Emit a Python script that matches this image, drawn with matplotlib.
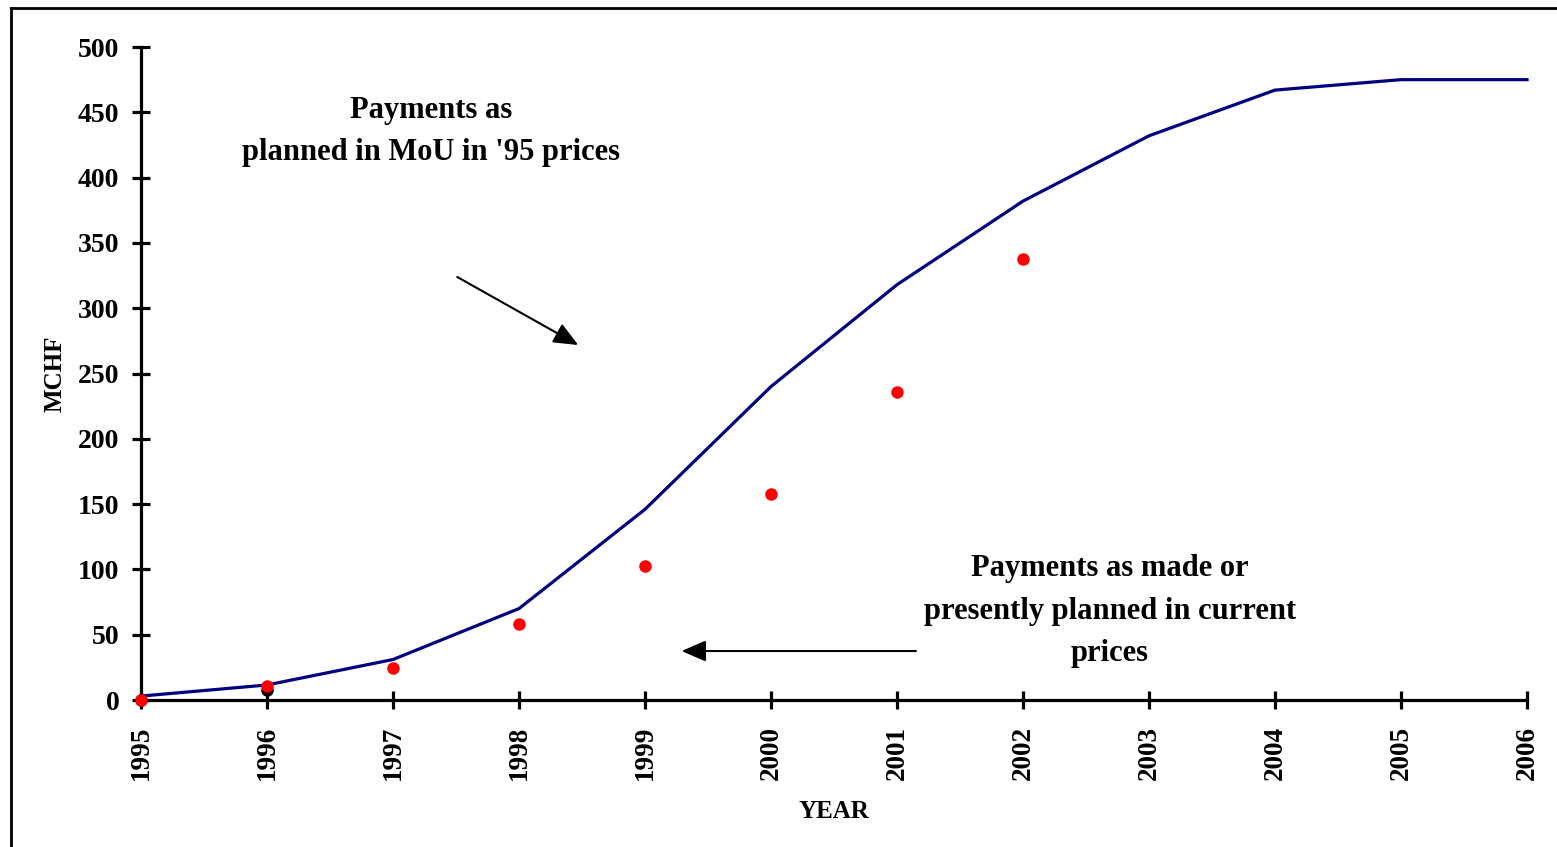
import matplotlib
matplotlib.use("Agg")
import matplotlib.pyplot as plt
from matplotlib.lines import Line2D

# data
years = [1995, 1996, 1997, 1998, 1999, 2000, 2001, 2002, 2003, 2004, 2005, 2006]
planned_mou = [3, 11.5, 31, 70, 146, 240, 318, 382, 432, 467, 475, 475]

actual_years = [1995, 1996, 1997, 1998, 1999, 2000, 2001, 2002]
actual_current = [0, 11, 24.5, 58, 102.5, 157.5, 236, 338]

black_years = [1995, 1996]
black_vals = [0, 8]

y_ticks = [0, 50, 100, 150, 200, 250, 300, 350, 400, 450, 500]

plt.rcParams["font.family"] = ["Liberation Serif", "DejaVu Serif"]
plt.rcParams["font.weight"] = "bold"

W, H = 1557, 847
fig = plt.figure(figsize=(W / 100, H / 100), dpi=100)
ax = fig.add_axes([141 / W, 1 - 700 / H, (1527 - 141) / W, (700 - 47) / H])

ax.plot(years, planned_mou, color="#000080", lw=2.3, clip_on=False, zorder=3)
ax.plot(black_years, black_vals, "o", color="black", ms=8, clip_on=False, zorder=4)
ax.plot(actual_years, actual_current, "o", color="#ff0000", ms=9, mec="none",
        clip_on=False, zorder=5)

ax.set_xlim(1995, 2006)
ax.set_ylim(0, 500)
ax.set_xticks(years)
ax.set_xticklabels([str(y) for y in years], rotation=90, fontsize=19.5, fontweight="bold")
ax.set_yticks(y_ticks)
ax.set_yticklabels([str(v) for v in y_ticks], fontsize=20, fontweight="bold")
ax.tick_params(direction="inout", length=13, width=2.3)
ax.tick_params(axis="y", pad=9)
ax.tick_params(axis="x", pad=12)

for s in ["top", "right"]:
    ax.spines[s].set_visible(False)
for s in ["left", "bottom"]:
    ax.spines[s].set_linewidth(2.3)

ax.set_ylabel("MCHF", fontsize=18, fontweight="bold", labelpad=8)
ax.set_xlabel("YEAR", fontsize=18, fontweight="bold", labelpad=14)

ax.text(1997.3, 435, "Payments as\nplanned in MoU in '95 prices", ha="center", va="center",
        fontsize=22, fontweight="bold", linespacing=1.6)
ax.text(2002.69, 68, "Payments as made or\npresently planned in current\nprices",
        ha="center", va="center", fontsize=22, fontweight="bold", linespacing=1.6)

arrow = dict(arrowstyle="-|>,head_length=1.5,head_width=0.65", color="black", lw=1.5,
             shrinkA=0, shrinkB=0)
ax.annotate("", xy=(1998.47, 271.8), xytext=(1997.51, 323.9), arrowprops=arrow)
ax.annotate("", xy=(1999.29, 37.5), xytext=(2001.15, 37.5), arrowprops=arrow)

# frame around the picture (left and top edges visible)
fig.add_artist(Line2D([10.5 / W, 10.5 / W], [0, 1 - 8 / H], color="black", lw=2,
                      transform=fig.transFigure))
fig.add_artist(Line2D([10.5 / W, 1], [1 - 8 / H, 1 - 8 / H], color="black", lw=2,
                      transform=fig.transFigure))

fig.savefig("out.png", dpi=100)
